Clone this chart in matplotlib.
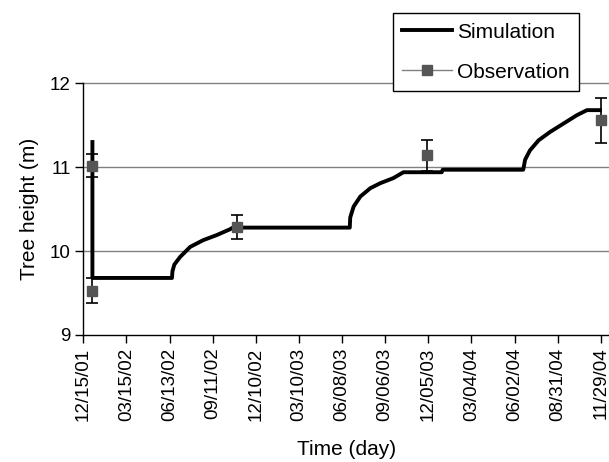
import matplotlib
matplotlib.use("Agg")
import matplotlib.pyplot as plt
from matplotlib.lines import Line2D

plt.rcParams['font.family'] = ['Liberation Sans', 'DejaVu Sans']

# days counted from 12/15/01
sim_days = [19, 19, 185, 186, 190, 202, 223, 250, 278, 306, 312, 556, 557, 564,
            578, 599, 620, 647, 665, 668, 748, 750, 918, 919, 922, 932, 950, 974,
            1002, 1030, 1051, 1078]
sim_height = [11.30, 9.68, 9.68, 9.76, 9.84, 9.93, 10.05, 10.13, 10.19, 10.26,
              10.28, 10.28, 10.40, 10.53, 10.65, 10.75, 10.81, 10.87, 10.93, 10.94,
              10.94, 10.97, 10.97, 11.00, 11.09, 11.20, 11.32, 11.42, 11.52, 11.62,
              11.68, 11.68]

obs_days = [19, 19, 320, 718, 1080]
obs_height = [11.02, 9.53, 10.29, 11.14, 11.56]
obs_err = [0.14, 0.15, 0.14, 0.18, 0.27]

tick_days = list(range(0, 1081, 90))
tick_labels = ['12/15/01', '03/15/02', '06/13/02', '09/11/02', '12/10/02',
               '03/10/03', '06/08/03', '09/06/03', '12/05/03', '03/04/04',
               '06/02/04', '08/31/04', '11/29/04']

fig = plt.figure(figsize=(6.09, 4.62), dpi=100)
ax = fig.add_axes([0.1368, 0.2749, 0.8632, 0.5448])

for y in [10, 11, 12]:
    ax.axhline(y, color='#808080', lw=1.0, zorder=1, clip_on=False)

ax.plot(sim_days, sim_height, color='black', lw=2.8, zorder=3)
ax.errorbar(obs_days, obs_height, yerr=obs_err, fmt='s', color='#555555',
            ms=6.5, ecolor='black', elinewidth=1.2, capsize=4.5, capthick=1.2,
            zorder=4, clip_on=False)

ax.set_xlim(0, 1097)
ax.set_ylim(9, 12)
ax.set_yticks([9, 10, 11, 12])
ax.set_xticks(tick_days)
ax.set_xticklabels(tick_labels, rotation=90)
ax.tick_params(direction='out', length=6, width=1, labelsize=13.5, pad=3)

for s in ['top', 'right']:
    ax.spines[s].set_visible(False)
ax.spines['left'].set_linewidth(1)
ax.spines['bottom'].set_linewidth(1)

ax.set_xlabel('Time (day)', fontsize=15, labelpad=14)
ax.set_ylabel('Tree height (m)', fontsize=15, labelpad=8)

handles = [Line2D([], [], color='black', lw=2.8),
           Line2D([], [], color='#808080', lw=1, marker='s', ms=6.5,
                  markerfacecolor='#555555', markeredgecolor='#555555')]
leg = fig.legend(handles, ['Simulation', 'Observation'], loc='upper left',
                 bbox_to_anchor=(392.7 / 609, 1 - 13.3 / 462), borderaxespad=0,
                 fontsize=15, fancybox=False, framealpha=1, edgecolor='black',
                 handlelength=2.4, labelspacing=1.0, borderpad=0.45,
                 handletextpad=0.25)
leg.get_frame().set_linewidth(1)

fig.savefig('out.png', dpi=100)
